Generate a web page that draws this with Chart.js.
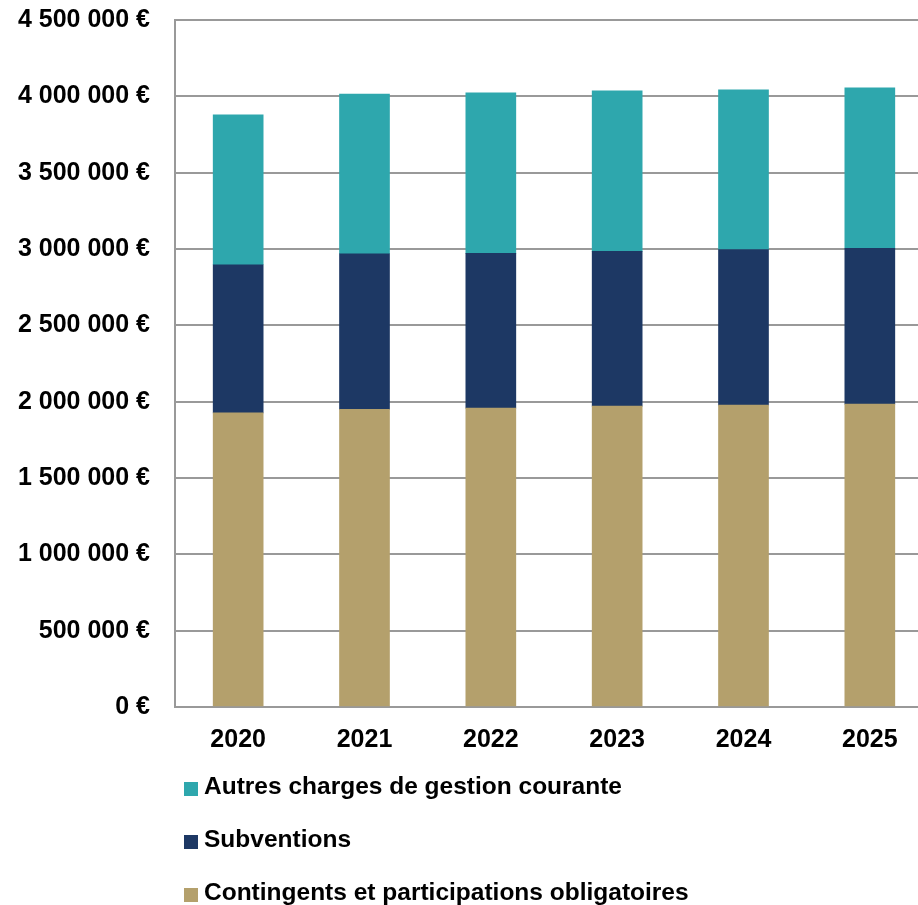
<!DOCTYPE html>
<html lang="fr">
<head>
<meta charset="utf-8">
<script src="https://cdn.jsdelivr.net/npm/chart.js@4/dist/chart.umd.min.js"></script>
<style>
  html, body { margin: 0; padding: 0; background: #fff; overflow: hidden; width: 918px; height: 905px; }
  #wrap { position: absolute; left: 0; top: -20px; width: 935px; height: 801px; }
  #legend { position: absolute; left: 184px; top: 772px; font: bold 24.5px "Liberation Sans", Arial, sans-serif; color: #000; }
  #legend .item { height: 53px; display: flex; align-items: flex-start; white-space: nowrap; }
  #legend .box { width: 14px; height: 14px; margin: 10px 6px 0 0; }
</style>
</head>
<body>
<div id="wrap"><canvas id="chart"></canvas></div>
<div id="legend"></div>
<script>
  var years = ["2020", "2021", "2022", "2023", "2024", "2025"];
  var contingents = [1927000, 1949000, 1958000, 1971000, 1977000, 1984000];
  var subventions = [970000, 1020000, 1013000, 1013000, 1020000, 1021000];
  var autres = [982000, 1045000, 1052000, 1052000, 1045000, 1051000];
  var yTickLabels = ["0 €", "500 000 €", "1 000 000 €", "1 500 000 €", "2 000 000 €",
    "2 500 000 €", "3 000 000 €", "3 500 000 €", "4 000 000 €", "4 500 000 €"];

  var font = { family: "'Liberation Sans', Arial, sans-serif", weight: "bold" };

  var ctx = document.getElementById("chart");
  ctx.width = 935;
  ctx.height = 801;

  var chart = new Chart(ctx, {
    type: "bar",
    data: {
      labels: years,
      datasets: [
        { label: "Contingents et participations obligatoires", data: contingents, backgroundColor: "#b4a06c" },
        { label: "Subventions", data: subventions, backgroundColor: "#1d3864" },
        { label: "Autres charges de gestion courante", data: autres, backgroundColor: "#2ea7ad" },
      ],
    },
    options: {
      responsive: false,
      animation: false,
      layout: { padding: { top: 5, right: 2, bottom: 8, left: 0 } },
      plugins: { legend: { display: false }, tooltip: { enabled: false } },
      datasets: { bar: { barThickness: 50 } },
      scales: {
        x: {
          stacked: true,
          grid: { display: false, drawTicks: false },
          border: { color: "#999", width: 2 },
          ticks: { color: "#000", padding: 18, font: Object.assign({ size: 25 }, font) },
        },
        y: {
          stacked: true,
          min: 0,
          max: 4500000,
          ticks: {
            stepSize: 500000,
            color: "#000",
            padding: 25,
            font: Object.assign({ size: 25 }, font),
            callback: function (value, index) {
              return yTickLabels[index];
            },
          },
          grid: { color: "#999", lineWidth: 2, drawTicks: false },
          border: { color: "#999", width: 2 },
          afterFit: function (scale) {
            scale.width = 175;
          },
        },
      },
    },
  });

  // legend, top item = last dataset
  var legend = document.getElementById("legend");
  chart.data.datasets.slice().reverse().forEach(function (ds) {
    var item = document.createElement("div");
    item.className = "item";
    item.innerHTML = '<span class="box" style="background:' + ds.backgroundColor + '"></span>' + ds.label;
    legend.appendChild(item);
  });
</script>
</body>
</html>
